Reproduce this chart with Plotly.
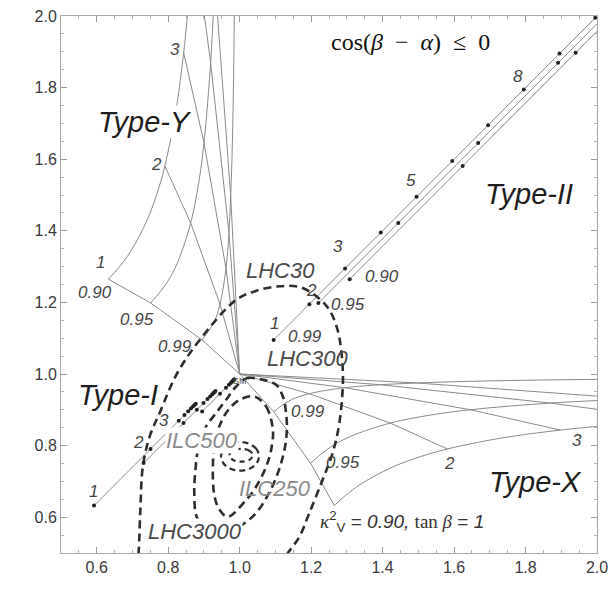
import plotly.graph_objects as go

# ---------------- data ----------------
# Type-Y region (kappa_l < 1, kappa_d > 1): curves of fixed kappa_V^2, parametrised by tan(beta)
tyY_kv090_l = [0.6325, 0.6612, 0.6957, 0.7379, 0.7680, 0.7906, 0.8222, 0.8433, 0.8536]
tyY_kv090_d = [1.2649, 1.2965, 1.3440, 1.4230, 1.5021, 1.5811, 1.7393, 1.8974, 2.0000]
tyY_kv095_l = [0.7511, 0.7958, 0.8256, 0.8629, 0.8853, 0.9002, 0.9188, 0.9259]
tyY_kv095_d = [1.1983, 1.2542, 1.3101, 1.4219, 1.5337, 1.6455, 1.8691, 2.0000]
tyY_kv099_l = [0.8950, 0.9283, 0.9450, 0.9617, 0.9700, 0.9783, 0.9825, 0.9850]
tyY_kv099_d = [1.0950, 1.1450, 1.1950, 1.2950, 1.3950, 1.5950, 1.7950, 2.0000]
# Type-Y lines of fixed tan(beta) = 1..5, from the SM point outwards
tyY_tb_l = [[1.0, 0.8950, 0.7511, 0.6325],
            [1.0, 0.9450, 0.8629, 0.7906],
            [1.0, 0.9617, 0.9002, 0.8433],
            [1.0, 0.9700, 0.9188, 0.9014],
            [1.0, 0.9750, 0.9382]]
tyY_tb_d = [[1.0, 1.0950, 1.1983, 1.2649],
            [1.0, 1.1950, 1.4219, 1.5811],
            [1.0, 1.2950, 1.6455, 1.8974],
            [1.0, 1.3950, 1.8691, 2.0000],
            [1.0, 1.4950, 2.0000]]
# Type-X region is the mirror image of Type-Y (kappa_l <-> kappa_d)

# Type-I lines (kappa_V^2 = 0.99, 0.95, 0.90), dots at tan(beta) = 1..10
tyI_099_l = [0.8950, 0.9450, 0.9617, 0.9700, 0.9750, 0.9783, 0.9807, 0.9825, 0.9839, 0.9850]
tyI_099_d = [0.8950, 0.9450, 0.9617, 0.9700, 0.9750, 0.9783, 0.9807, 0.9825, 0.9839, 0.9850]
tyI_095_l = [0.7311, 0.8429, 0.8802, 0.8988, 0.9100, 0.9174, 0.9228, 0.9268, 0.9299, 0.9324]
tyI_095_d = [0.7511, 0.8629, 0.9002, 0.9188, 0.9300, 0.9374, 0.9428, 0.9468, 0.9499, 0.9524]
tyI_090_l = [0.5925, 0.7506, 0.8033, 0.8296, 0.8455, 0.8560, 0.8635, 0.8692, 0.8736, 0.8771]
tyI_090_d = [0.6325, 0.7906, 0.8433, 0.8696, 0.8855, 0.8960, 0.9035, 0.9092, 0.9136, 0.9171]

# Type-II lines, dots at integer tan(beta)
tyII_099_l = [1.095, 1.195, 1.295, 1.395, 1.495, 1.595, 1.695, 1.795, 1.895, 1.995]
tyII_099_d = [1.095, 1.195, 1.295, 1.395, 1.495, 1.595, 1.695, 1.795, 1.895, 1.995]
tyII_095_l = [1.2203, 1.4439, 1.6675, 1.8911]
tyII_095_d = [1.1983, 1.4219, 1.6455, 1.8691]
tyII_095_end = (2.022, 2.0)
tyII_090_l = [1.3079, 1.6241, 1.9404]
tyII_090_d = [1.2649, 1.5811, 1.8974]
tyII_090_end = (2.043, 2.0)

# Projected precision contours (dashed)
lhc30_l = [0.712, 0.717, 0.722, 0.729, 0.748, 0.776, 0.824, 0.888, 0.990, 1.045, 1.111,
           1.167, 1.214, 1.251, 1.274, 1.284, 1.289, 1.279, 1.260, 1.232, 1.195, 1.167, 1.135, 1.110]
lhc30_d = [0.460, 0.500, 0.620, 0.741, 0.825, 0.891, 1.000, 1.095, 1.207, 1.232, 1.245,
           1.243, 1.218, 1.179, 1.123, 1.067, 0.983, 0.863, 0.779, 0.704, 0.612, 0.545, 0.500, 0.460]
lhc300_l = [0.990, 1.020, 1.065, 1.102, 1.121, 1.130, 1.132, 1.127, 1.110, 1.082, 1.045, 1.000,
            0.950, 0.905, 0.880, 0.873, 0.876, 0.885, 0.906, 0.934, 0.962, 0.990]
lhc300_d = [0.965, 0.988, 0.984, 0.970, 0.937, 0.891, 0.844, 0.797, 0.732, 0.667, 0.611, 0.575,
            0.562, 0.568, 0.600, 0.667, 0.730, 0.797, 0.853, 0.891, 0.928, 0.965]
lhc3000_l = [1.041, 1.074, 1.093, 1.088, 1.074, 1.046, 1.018, 0.967, 0.944, 0.930, 0.925,
             0.934, 0.962, 1.000, 1.041]
lhc3000_d = [0.937, 0.909, 0.844, 0.788, 0.741, 0.685, 0.648, 0.601, 0.620, 0.657, 0.741,
             0.825, 0.891, 0.928, 0.937]
ilc250_l = [1.054, 1.047, 1.0275, 1.001, 0.9745, 0.955, 0.948, 0.955, 0.9745, 1.001, 1.0275, 1.047, 1.054]
ilc250_d = [0.770, 0.790, 0.8046, 0.810, 0.8046, 0.790, 0.770, 0.750, 0.7354, 0.730, 0.7354, 0.750, 0.770]
ilc500_l = [1.037, 1.0273, 1.004, 0.9807, 0.971, 0.9807, 1.004, 1.0273, 1.037]
ilc500_d = [0.773, 0.7857, 0.791, 0.7857, 0.773, 0.7603, 0.755, 0.7603, 0.773]

# text labels: (text, kappa_l, kappa_d, white background?)
type_labels = [("Type-Y", 0.736, 1.705, True), ("Type-I", 0.659, 0.942, False),
               ("Type-II", 1.811, 1.503, False), ("Type-X", 1.828, 0.699, False)]
number_labels = [("3", 0.820, 1.906), ("2", 0.767, 1.585), ("1", 0.611, 1.311),
                 ("0.90", 0.594, 1.227), ("0.95", 0.713, 1.151), ("0.99", 0.820, 1.076),
                 ("1", 0.590, 0.673), ("2", 0.717, 0.809), ("3", 0.787, 0.869),
                 ("1", 1.098, 1.142), ("2", 1.200, 1.232), ("3", 1.274, 1.357),
                 ("5", 1.480, 1.540), ("8", 1.778, 1.832),
                 ("0.99", 1.183, 1.104), ("0.95", 1.303, 1.193), ("0.90", 1.398, 1.273),
                 ("0.99", 1.191, 0.896), ("0.95", 1.289, 0.753),
                 ("2", 1.587, 0.750), ("3", 1.943, 0.813)]
contour_labels = [("LHC30", 1.113, 1.290, "#4a4a4a", False),
                  ("LHC300", 1.191, 1.042, "#4a4a4a", False),
                  ("LHC3000", 0.874, 0.560, "#4a4a4a", True),
                  ("ILC500", 0.895, 0.815, "#8a8a8a", True),
                  ("ILC250", 1.098, 0.680, "#8a8a8a", False)]

# ---------------- figure ----------------
fig = go.Figure()
GREY = "#8a8a8a"


def gline(x, y, shape="linear"):
    fig.add_trace(go.Scatter(x=x, y=y, mode="lines",
                             line=dict(color=GREY, width=1, shape=shape),
                             hoverinfo="skip", showlegend=False))


# Type-Y and (mirrored) Type-X
for cl, cd in [(tyY_kv090_l, tyY_kv090_d), (tyY_kv095_l, tyY_kv095_d), (tyY_kv099_l, tyY_kv099_d)]:
    gline(cl, cd, "spline")
    gline(cd, cl, "spline")
for cl, cd in zip(tyY_tb_l, tyY_tb_d):
    gline(cl, cd)
    gline(cd, cl)

# Type-I
for cl, cd in [(tyI_099_l, tyI_099_d), (tyI_095_l, tyI_095_d), (tyI_090_l, tyI_090_d)]:
    gline(cl, cd)
# Type-II
gline(tyII_099_l, tyII_099_d)
gline([tyII_095_l[0], tyII_095_end[0]], [tyII_095_d[0], tyII_095_end[1]])
gline([tyII_090_l[0], tyII_090_end[0]], [tyII_090_d[0], tyII_090_end[1]])

# dashed contours
DK = "#2e2e2e"
for cl, cd, w, dash in [(lhc30_l, lhc30_d, 2.6, "8px,5px"),
                        (lhc300_l, lhc300_d, 2.6, "8px,5px"),
                        (lhc3000_l, lhc3000_d, 2.6, "8px,5px"),
                        (ilc250_l, ilc250_d, 2.2, "6px,4px"),
                        (ilc500_l, ilc500_d, 2.2, "5px,4px")]:
    fig.add_trace(go.Scatter(x=cl, y=cd, mode="lines",
                             line=dict(color=DK, width=w, dash=dash, shape="spline", smoothing=1.0),
                             hoverinfo="skip", showlegend=False))

# tan(beta) dots
dots_l = tyI_099_l + tyI_095_l + tyI_090_l + tyII_099_l + tyII_095_l + tyII_090_l
dots_d = tyI_099_d + tyI_095_d + tyI_090_d + tyII_099_d + tyII_095_d + tyII_090_d
fig.add_trace(go.Scatter(x=dots_l, y=dots_d, mode="markers",
                         marker=dict(color="#222222", size=4), cliponaxis=False,
                         hoverinfo="skip", showlegend=False))

SANS = "Liberation Sans"
SERIF = "Liberation Serif"
ann = []
for t, x, y in number_labels:
    ann.append(dict(x=x, y=y, text="<i>%s</i>" % t, showarrow=False,
                    font=dict(family=SANS, size=17, color="#444444")))
for t, x, y, col, bg in contour_labels:
    d = dict(x=x, y=y, text="<i>%s</i>" % t, showarrow=False,
             font=dict(family=SANS, size=22, color=col))
    if bg:
        d.update(bgcolor="white", borderpad=0)
    ann.append(d)
for t, x, y, bg in type_labels:
    d = dict(x=x, y=y, text="<i>%s</i>" % t, showarrow=False,
             font=dict(family=SANS, size=29, color="#1e1e1e"))
    if bg:
        d.update(bgcolor="white", borderpad=0)
    ann.append(d)
ann.append(dict(x=1.002, y=0.981, text="SM", showarrow=False,
                font=dict(family=SANS, size=9, color="#555555")))
ann.append(dict(x=1.478, y=1.926,
                text="cos(<i>β</i>\u2002−\u2002<i>α</i>)\u2002≤\u20020", showarrow=False,
                font=dict(family=SERIF, size=24, color="#111111")))
ann.append(dict(x=1.453, y=0.587,
                text="<span style='font-family:Liberation Serif'><i>κ</i></span><sup>2</sup><sub>V</sub>"
                     " = <i>0.90,</i> <span style='font-family:Liberation Serif'>tan <i>β</i></span> = <i>1</i>",
                showarrow=False, font=dict(family=SANS, size=19, color="#333333")))
# axis titles
ann.append(dict(x=1.151, y=0.399, text="<i>κ</i><sub>ℓ</sub>", showarrow=False,
                font=dict(family=SERIF, size=28, color="#222222")))
ann.append(dict(x=0.4006, y=1.305, text="<i>κ</i><sub>d</sub>", showarrow=False,
                font=dict(family=SERIF, size=28, color="#222222")))

axis_common = dict(range=[0.5, 2.0], dtick=0.2, tick0=0, tickformat=".1f", automargin=False,
                   ticks="inside", ticklen=6, tickwidth=1, tickcolor="#9a9a9a",
                   showline=True, linecolor="#a8a8a8", linewidth=1, mirror="allticks",
                   showgrid=False, zeroline=False,
                   tickfont=dict(family=SANS, size=16, color="#3a3a3a"),
                   minor=dict(dtick=0.05, ticks="inside", ticklen=3, tickcolor="#b0b0b0", showgrid=False))
fig.update_layout(width=612, height=603, margin=dict(l=61, r=15, t=16, b=50),
                  plot_bgcolor="white", paper_bgcolor="white",
                  xaxis=axis_common, yaxis=axis_common, annotations=ann, showlegend=False)
fig.write_html("out.html", config={"displayModeBar": False},
               post_script="document.body.style.margin='0';document.body.style.overflow='hidden';")
